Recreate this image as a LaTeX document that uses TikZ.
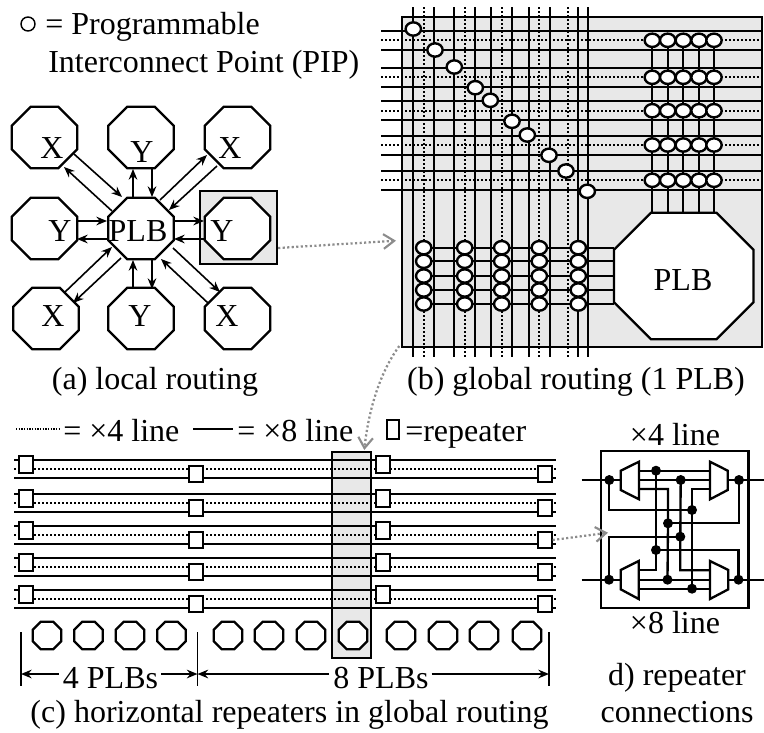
\documentclass[tikz,border=0pt]{standalone}
\usepackage{fontspec}
\setmainfont{Liberation Serif}
\usetikzlibrary{arrows.meta,shapes.geometric,calc}
\definecolor{panelgrey}{HTML}{E8E8E8}
\definecolor{linkgrey}{HTML}{8C8C8C}
\tikzset{
 lbl/.style={inner sep=0pt,font=\fontsize{24}{27}\selectfont},
 lblw/.style={lbl,anchor=base west},
 lblc/.style={lbl,anchor=base},
 octline/.style={draw=black,fill=white,line width=1.7pt,line join=miter},
 arr/.style={line width=1.2pt,-{Stealth[length=8pt,width=6.5pt]}},
 wire/.style={line width=1.75pt,line cap=butt},
 dotw/.style={line width=1.75pt,dash pattern=on 1.8pt off 1.2pt},
 pip/.style={ellipse,draw=black,fill=white,line width=1.8pt,inner sep=0pt,minimum width=11.5pt,minimum height=10pt},
 rpt/.style={rectangle,draw=black,fill=white,line width=1.5pt,inner sep=0pt,minimum width=10pt,minimum height=12.5pt},
 jn/.style={circle,fill=black,inner sep=0pt,minimum size=7.5pt},
 link/.style={draw=linkgrey,line width=1.7pt,dash pattern=on 1.6pt off 1.8pt,
   -{Straight Barb[length=8pt,width=11pt,line width=1.6pt,color=linkgrey]}},
 box/.style={draw=black,line width=1.7pt},
}
% octagon node: name, x, y, width, height, chamfer (px)
\newcommand{\octn}[6]{%
  \node[rectangle,inner sep=0pt,minimum width=#4*0.75pt,minimum height=#5*0.75pt] (#1) at (#2,#3) {};
  \draw[octline] ([xshift=#6*0.75pt]#1.north west) -- ([xshift=-#6*0.75pt]#1.north east)
    -- ([yshift=-#6*0.75pt]#1.north east) -- ([yshift=#6*0.75pt]#1.south east)
    -- ([xshift=-#6*0.75pt]#1.south east) -- ([xshift=#6*0.75pt]#1.south west)
    -- ([yshift=#6*0.75pt]#1.south west) -- ([yshift=-#6*0.75pt]#1.north west) -- cycle;
}
\newcommand{\arrw}[4]{\draw[arr] ([shift={(#2)}]#1.center) -- ([shift={(#4)}]#3.center);}
\begin{document}
\begin{tikzpicture}[x=0.75pt,y=-0.75pt]
\useasboundingbox (0,0) rectangle (764,732);
% ---- legend (a)
\node[circle,draw=black,line width=1.1pt,inner sep=0pt,minimum size=10.5pt] (legpip) at (28,24) {};
\node[lblw] (leg1) at (45,34) {= Programmable};
\node[lblw] (leg2) at (48,72) {Interconnect Point (PIP)};
% ---- panel (a)
\node[box,fill=panelgrey,rectangle,minimum width=57.75pt,minimum height=54.75pt,inner sep=0pt] (hl) at (238.5,227.5) {};
\octn{tl}{44.5}{137.5}{65}{61}{19}
\octn{t}{141}{137.5}{65}{61}{19}
\octn{tr}{237.5}{137.5}{65}{61}{19}
\octn{l}{44.5}{228.5}{65}{61}{19}
\octn{c}{141}{228.5}{65}{61}{19}
\octn{r}{237.5}{228.5}{65}{61}{19}
\octn{bl}{46}{318.5}{65}{61}{19}
\octn{b}{141}{318.5}{65}{61}{19}
\octn{br}{237.5}{318.5}{65}{61}{19}
\node[lblc] (xtl) at (52,158) {X};
\node[lblc] (yt)  at (142,162) {Y};
\node[lblc] (xtr) at (230,158) {X};
\node[lblc] (yl)  at (60,241) {Y};
\node[lblc] (plbs) at (138,241) {PLB};
\node[lblc] (yr)  at (222,241) {Y};
\node[lblc] (xbl) at (53,326) {X};
\node[lblc] (yb)  at (140,326) {Y};
\node[lblc] (xbr) at (227,326) {X};
\arrw{tl}{29.5,16.5}{c}{-19,-31.5}
\arrw{c}{-29,-17.5}{tl}{19.5,29.5}
\arrw{c}{-8,-31.5}{t}{-8,31.5}
\arrw{t}{11,31.5}{c}{11,-31.5}
\arrw{c}{19,-28.5}{tr}{-30.5,17.5}
\arrw{tr}{-20.5,28.5}{c}{28,-18.5}
\arrw{l}{32.5,-7.5}{c}{-34,-7.5}
\arrw{c}{-34,10.5}{l}{32.5,10.5}
\arrw{c}{33,-7.5}{r}{-33.5,-7.5}
\arrw{r}{-33.5,10.5}{c}{33,10.5}
\arrw{bl}{19,-26.5}{c}{-29,18.5}
\arrw{c}{-20,29.5}{bl}{27,-15.5}
\arrw{b}{-8,-29.5}{c}{-8,31.5}
\arrw{c}{11,31.5}{b}{11,-29.5}
\arrw{c}{32,19.5}{br}{-17.5,-26.5}
\arrw{br}{-29.5,-15.5}{c}{20,30.5}
\node[lblc] (capa) at (155,389) {(a) local routing};
% ---- panel (b)
\draw[box,fill=panelgrey] (402,17) rectangle (762,347);
\node[lblc] (capb) at (576,389) {(b) global routing (1 PLB)};
\foreach \y in {40.3,77.3,110.7,145,180.3} {\draw[dotw] (381,\y) -- (762,\y);}
\foreach \x in {423.7,464.7,501.7,539.3,567.7} {\draw[dotw] (\x,7) -- (\x,357);}
\foreach \y in {31,49.7,68.3,86.7,101.3,120.3,136,154.7,171,189.7} {\draw[wire] (381,\y) -- (762,\y);}
\foreach \x in {413.3,434,454.3,475,491.3,512,529,549.7,577.7,588.3} {\draw[wire] (\x,7) -- (\x,357);}
% PLB big
\octn{bigplb}{683.8}{276}{139}{126}{37}
\node[lblc] (bigtxt) at (683,290) {PLB};
\foreach \x in {652.3,667.7,683.3,699,714} {\draw[wire] (\x,40.3) -- (\x,0 |- bigplb.north);}
\foreach \y in {247.7,261.3,276,290,304} {\draw[wire] (423.7,\y) -- (614,\y);}
\foreach \x/\y [count=\i] in {413.3/29,435/50,454.3/67,475.3/87.7,490.3/100.3,512/121.3,527.3/135,549/155.3,566/171,587.3/191.3}
  {\node[pip] (pip\i) at (\x,\y) {};}
\foreach \x [count=\i] in {652.3,667.7,683.3,699,714}
  {\foreach \y [count=\j] in {40.3,77.3,110.7,145,180.3}
    {\node[pip] (pa\i\j) at (\x,\y) {};}}
\foreach \x [count=\i] in {423.7,464.7,501.7,539.3,578.3}
  {\foreach \y [count=\j] in {247.7,261.3,276,290,304}
    {\node[pip] (pb\i\j) at (\x,\y) {};}}
% ---- panel (c)
\draw[line width=1.2pt,dash pattern=on 1pt off 1pt] (16,429) coordinate (dl1) -- (60,429) coordinate (dl2);
\node[lblw] (leg4) at (63,441.7) {= ×4 line};
\draw[wire] (193,429) coordinate (sl1) -- (233,429) coordinate (sl2);
\node[lblw] (leg8) at (237,441.7) {= ×8 line};
\node[rectangle,draw=black,line width=1.1pt,inner sep=0pt,minimum width=9pt,minimum height=14.5pt] (legr) at (393,429.5) {};
\node[lblw] (legrt) at (405,441.7) {=repeater};
\draw[box,fill=panelgrey] (332,452) rectangle (371,658);
\foreach \y in {469,503,535,567,599} {
  \draw[dotw] (14,\y) -- (556,\y);
  \draw[wire] (14,\y-9) -- (556,\y-9);
  \draw[wire] (14,\y+9) -- (556,\y+9);
}
\foreach \y [count=\i] in {469,503,535,567,599} {
  \node[rpt] (ra\i) at (26,\y-4.5) {};
  \node[rpt] (rb\i) at (196,\y+5) {};
  \node[rpt] (rc\i) at (383,\y-4.5) {};
  \node[rpt] (rd\i) at (545,\y+5) {};
}
\foreach \x [count=\i] in {47,88.5,130,171.5,228,269,311,353,401,443,484,527}
  {\octn{m\i}{\x}{635.5}{28}{27}{8}}
\node[lblc] (four) at (110.5,688) {4 PLBs};
\node[lblc] (eight) at (381,688) {8 PLBs};
\coordinate (da) at (21,674);
\coordinate (db) at (197.5,674);
\coordinate (dc) at (549,674);
\draw[line width=1pt] (21,632) -- (21,686);
\draw[line width=1pt] (197.5,632) -- (197.5,686);
\draw[line width=1pt] (549,632) -- (549,686);
\draw[arr] ([xshift=-3pt]four.west |- da) -- (da);
\draw[arr] ([xshift=2pt]four.east |- da) -- (db);
\draw[arr] ([xshift=-3pt]eight.west |- db) -- (db);
\draw[arr] ([xshift=2pt]eight.east |- dc) -- (dc);
\node[lblc] (capc) at (289.5,722.5) {(c) horizontal repeaters in global routing};
% ---- panel (d)
\draw[box] (600.7,450.7) rectangle (748.5,607.7);
\node[lblc] (x4) at (675,445) {×4 line};
\node[lblc] (x8) at (675,633) {×8 line};
\node[lblc] (capd1) at (677,685) {d) repeater};
\node[lblc] (capd2) at (677,722.5) {connections};
\node[jn] (ta) at (609.3,480) {};
\node[jn] (tb) at (739,480) {};
\node[jn] (tc) at (656,470.7) {};
\node[jn] (td) at (680.7,480) {};
\node[jn] (e1) at (692,510) {};
\node[jn] (e2) at (668,523.3) {};
\node[jn] (e3) at (680.3,536.7) {};
\node[jn] (e4) at (656,550) {};
\node[jn] (ba) at (609,579.7) {};
\node[jn] (bb) at (738.5,579.7) {};
\node[jn] (bc) at (667.5,579.7) {};
\node[jn] (bd) at (692,588.7) {};
\coordinate (ltm) at (639,489);
\coordinate (rtm) at (710,489);
\coordinate (lbm) at (639,570.3);
\coordinate (rbm) at (710,570.3);
\draw[wire] (581.7,480) -- (620.7,480);
\draw[wire] (727.7,480) -- (764,480);
\draw[wire] (581.7,579.7) -- (620.7,579.7);
\draw[wire] (727.7,579.7) -- (764,579.7);
\draw[wire] (639,470.7) -- (710,470.7);
\draw[wire] (639,480) -- (710,480);
\draw[wire] (639,579.7) -- (710,579.7);
\draw[wire] (639,588.7) -- (710,588.7);
\draw[wire] (ta.center) |- (e1.center);
\draw[wire] (tb.center) |- (e2.center);
\draw[wire] (ba.center) |- (e3.center);
\draw[wire] (bb.center) |- (e4.center);
\draw[wire] (ltm) -| (e2.center) -- (bc.center);
\draw[wire] (rtm) -| (e1.center) -- (bd.center);
\draw[wire] (tc.center) -- (e4.center) |- (lbm);
\draw[wire] (td.center) -- (e3.center) |- (rbm);
\draw[wire,fill=white] (620.7,470.7) -- (639,461.7) -- (639,499.3) -- (620.7,490) -- cycle;
\draw[wire,fill=white] (710,461.7) -- (727.7,470.7) -- (727.7,490) -- (710,499.3) -- cycle;
\draw[wire,fill=white] (620.7,570) -- (638.7,561) -- (638.7,599) -- (620.7,589.3) -- cycle;
\draw[wire,fill=white] (710,561) -- (728.3,570) -- (728.3,589.3) -- (710,599) -- cycle;
% ---- grey links
\draw[link] (hl.east |- 0,248) -- (396,240.7);
\draw[link] (399.3,346) .. controls (378,375) and (368,415) .. (364.3,450);
\draw[link] (rd3.east) -- (608,532.7);
\end{tikzpicture}
\end{document}
